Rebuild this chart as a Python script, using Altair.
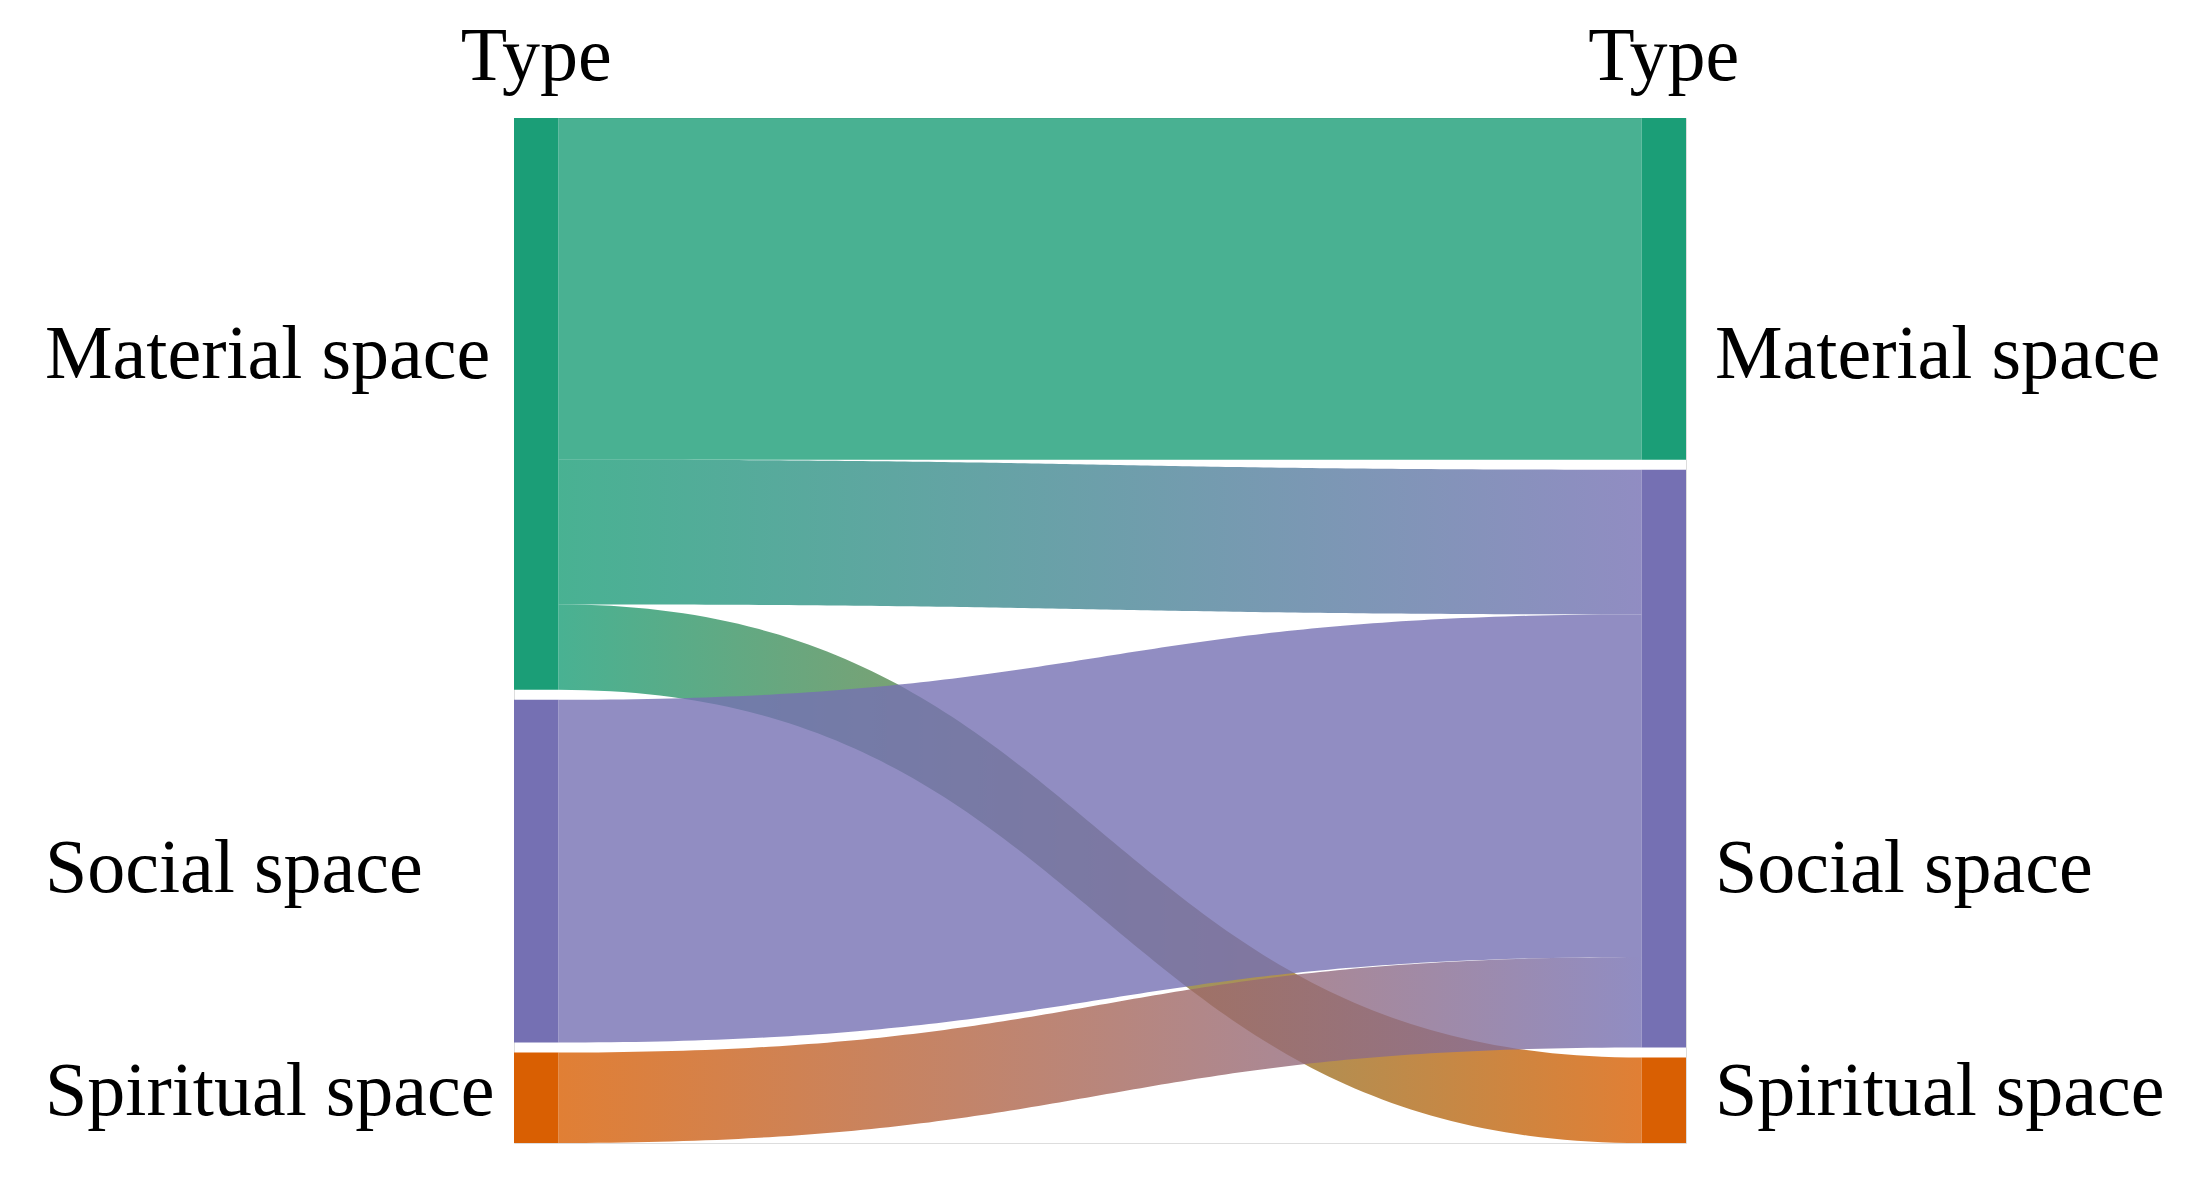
import altair as alt
import pandas as pd
import numpy as np

# ---- data ----
nodes = ["Material space", "Social space", "Spiritual space"]
node_colors = ["#1b9e77", "#7570b3", "#d95f02"]
link_source = ["Material space", "Material space", "Material space", "Social space", "Spiritual space"]
link_target = ["Material space", "Social space", "Spiritual space", "Social space", "Social space"]
link_value = [34.0, 14.4, 8.5, 34.1, 9.0]
header_text = "Type"

# ---- layout constants ----
GAP = 1.0          # node padding in value units
NW = 0.041         # node width in x units (links span 0..1)
LABEL_BASE = {"Material space": 25.9, "Social space": 77.0, "Spiritual space": 99.2}
FONT = "Liberation Serif"
FS = 76

color_of = dict(zip(nodes, node_colors))

# node stacking (left = sources, right = targets)
def stack(side_vals):
    pos, y = {}, 0.0
    for n in nodes:
        v = side_vals.get(n, 0.0)
        pos[n] = (y, y + v)
        y += v + GAP
    return pos

left_tot = {n: sum(v for s, v in zip(link_source, link_value) if s == n) for n in nodes}
right_tot = {n: sum(v for t, v in zip(link_target, link_value) if t == n) for n in nodes}
left_pos = stack(left_tot)
right_pos = stack(right_tot)
total = max(left_pos[nodes[-1]][1], right_pos[nodes[-1]][1])

node_rows = []
for n in nodes:
    node_rows.append(dict(node=n, x=-NW, x2=0.0, y=left_pos[n][0], y2=left_pos[n][1]))
    node_rows.append(dict(node=n, x=1.0, x2=1.0 + NW, y=right_pos[n][0], y2=right_pos[n][1]))
node_df = pd.DataFrame(node_rows)

# link offsets inside nodes
src_off = {n: left_pos[n][0] for n in nodes}
tgt_off = {n: right_pos[n][0] for n in nodes}
order = sorted(range(len(link_value)), key=lambda i: (nodes.index(link_source[i]), nodes.index(link_target[i])))
link_geo = {}
for i in order:
    link_geo.setdefault(i, {})["y0"] = src_off[link_source[i]]
    src_off[link_source[i]] += link_value[i]
order_t = sorted(range(len(link_value)), key=lambda i: (nodes.index(link_target[i]), nodes.index(link_source[i])))
for i in order_t:
    link_geo[i]["y1"] = tgt_off[link_target[i]]
    tgt_off[link_target[i]] += link_value[i]

s = np.linspace(0, 1, 121)
xs = 1.5 * s * (1 - s) + s ** 3
ease = 3 * s ** 2 - 2 * s ** 3

xsc = alt.Scale(domain=[-NW, 1 + NW], nice=False, zero=False)
ysc = alt.Scale(domain=[0, total], reverse=True, nice=False, zero=False)

layers = []
for i in range(len(link_value)):
    y0, y1, w = link_geo[i]["y0"], link_geo[i]["y1"], link_value[i]
    top = y0 + (y1 - y0) * ease
    df = pd.DataFrame({"x": xs, "top": top, "bot": top + w})
    c0, c1 = color_of[link_source[i]], color_of[link_target[i]]
    if c0 == c1:
        fill = c0
    else:
        fill = alt.LinearGradient(gradient="linear",
                                  stops=[alt.GradientStop(color=c0, offset=0),
                                         alt.GradientStop(color=c1, offset=1)],
                                  x1=0, x2=1, y1=0, y2=0)
    layers.append(
        alt.Chart(df).mark_area(color=fill, opacity=0.8, interpolate="linear").encode(
            x=alt.X("x:Q", scale=xsc, axis=None),
            y=alt.Y("top:Q", scale=ysc, axis=None),
            y2="bot:Q",
        )
    )

node_layer = alt.Chart(node_df).mark_rect().encode(
    x=alt.X("x:Q", scale=xsc, axis=None),
    x2="x2:Q",
    y=alt.Y("y:Q", scale=ysc, axis=None),
    y2="y2:Q",
    color=alt.Color("node:N", scale=alt.Scale(domain=nodes, range=node_colors), legend=None),
)

lab_left = pd.DataFrame({"label": nodes, "x": [-NW] * 3, "y": [LABEL_BASE[n] for n in nodes]})
lab_right = pd.DataFrame({"label": nodes, "x": [1 + NW] * 3, "y": [LABEL_BASE[n] for n in nodes]})

left_text = alt.Chart(lab_left).mark_text(
    align="left", baseline="alphabetic", dx=-469, font=FONT, fontSize=FS, color="black"
).encode(x=alt.X("x:Q", scale=xsc, axis=None), y=alt.Y("y:Q", scale=ysc, axis=None), text="label:N")

right_text = alt.Chart(lab_right).mark_text(
    align="left", baseline="alphabetic", dx=29, font=FONT, fontSize=FS, color="black"
).encode(x=alt.X("x:Q", scale=xsc, axis=None), y=alt.Y("y:Q", scale=ysc, axis=None), text="label:N")

hdr = pd.DataFrame({"label": [header_text, header_text], "x": [-NW / 2, 1 + NW / 2], "y": [-3.8, -3.8]})
hdr_text = alt.Chart(hdr).mark_text(
    align="center", baseline="alphabetic", font=FONT, fontSize=FS, color="black"
).encode(x=alt.X("x:Q", scale=xsc, axis=None), y=alt.Y("y:Q", scale=ysc, axis=None), text="label:N")

chart = alt.layer(*layers, node_layer, left_text, right_text, hdr_text).properties(
    width=1172, height=1025,
    autosize=alt.AutoSizeParams(type="none"),
    padding={"left": 506, "top": 110, "right": 499, "bottom": 31},
).configure_view(stroke=None).configure(background="white")

chart.save("out.html", embed_options={"renderer": "svg", "actions": False})
